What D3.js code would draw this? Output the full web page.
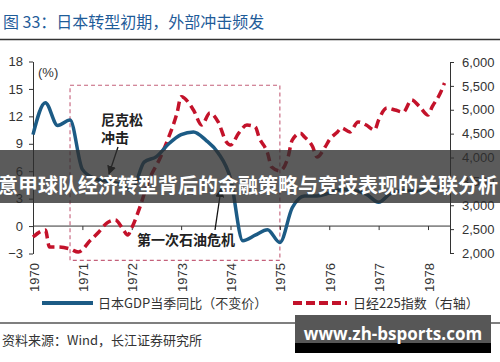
<!DOCTYPE html>
<html>
<head>
<meta charset="utf-8">
<script src="https://cdn.jsdelivr.net/npm/d3@7"></script>
<style>
  body { margin: 0; background: #fff; }
  svg { display: block; font-family: "Liberation Sans", "Noto Sans CJK SC", sans-serif; }
  .cjk { font-family: "Noto Sans CJK SC", sans-serif; }
</style>
</head>
<body>
<script>
// quarterly GDP yoy (%)
var gdpQuarters = ["1970Q1","1970Q2","1970Q3","1970Q4","1971Q1","1971Q2","1971Q3","1971Q4",
  "1972Q1","1972Q2","1972Q3","1972Q4","1973Q1","1973Q2","1973Q3","1973Q4",
  "1974Q1","1974Q2","1974Q3","1974Q4","1975Q1","1975Q2","1975Q3","1975Q4",
  "1976Q1","1976Q2","1976Q3","1976Q4","1977Q1","1977Q2","1977Q3","1977Q4",
  "1978Q1","1978Q2"];
var gdpValues = [10.0, 13.5, 11.0, 11.6, 6.2, 5.2, 4.9, 4.6,
  3.9, 7.0, 7.6, 9.0, 10.0, 10.3, 9.4, 8.0,
  5.2, -1.6, -1.0, -0.4, -1.8, 2.0, 3.3, 3.3,
  3.6, 4.0, 3.9, 3.5, 2.6, 3.6, 3.9, 3.8,
  4.1, 4.3];

// Nikkei 225 (right axis)
var nikkeiMonths = ["1970-01","1970-04","1970-05","1970-07","1970-10","1970-12",
  "1971-03","1971-05","1971-07","1971-09","1971-11","1971-12",
  "1972-01","1972-03","1972-05","1972-08","1972-10","1972-12",
  "1973-01","1973-04","1973-06","1973-08","1973-10","1973-12",
  "1974-01","1974-03","1974-05","1974-07","1974-08","1974-10","1974-11",
  "1975-01","1975-03","1975-04","1975-06","1975-07","1975-09","1975-10","1975-12",
  "1976-01","1976-03","1976-04","1976-06","1976-08","1976-10","1976-12",
  "1977-01","1977-03","1977-05","1977-07","1977-09","1977-11",
  "1978-01","1978-02","1978-04","1978-05"];
var nikkeiValues = [2335, 2480, 2125, 2125, 2085, 2020,
  2270, 2440, 2630, 2690, 2480, 2375,
  2525, 2965, 3490, 4010, 4430, 4930,
  5270, 4995, 4680, 4930, 4745, 4325,
  4260, 4510, 4680, 4640, 4410, 4095, 3800,
  3720, 4010, 4365, 4510, 4430, 4220, 4010, 4220,
  4365, 4535, 4620, 4535, 4745, 4680, 4575,
  4785, 5035, 4995, 4950, 5205, 5060,
  4890, 5060, 5350, 5560];

var years = [1970, 1971, 1972, 1973, 1974, 1975, 1976, 1977, 1978];
var leftTicks = [-3, 0, 3, 6, 9, 12, 15, 18];
var rightTicks = [2000, 2500, 3000, 3500, 4000, 4500, 5000, 5500, 6000];
var shockBox = {from: 1970.75, to: 1975.0, top: 15.4, bottom: -3.75};

var title = "图 33：日本转型初期，外部冲击频发";
var source = "资料来源：Wind，长江证券研究所";
var bannerText = "意甲球队经济转型背后的金融策略与竞技表现的关联分析";
var siteText = "www.zh-bsports.com";

var W = 500, H = 362;
var blue = "#1c5b85", red = "#c3122a";

function qTime(s) { return +s.slice(0, 4) + (+s.slice(5) - 1) / 4; }
function mTime(s) { return +s.slice(0, 4) + (+s.slice(5) - 1) / 12; }

var x = d3.scaleLinear().domain([1970, 1978]).range([33, 428]);
var yL = d3.scaleLinear().domain([-3, 18]).range([253.5, 61.5]);
var yR = d3.scaleLinear().domain([2000, 6000]).range([253, 62]);

var svg = d3.select("body").append("svg").attr("width", W).attr("height", H);

// title + rule
svg.append("text").attr("class", "cjk").attr("x", 3).attr("y", 28)
  .attr("font-size", 16).attr("fill", "#1f5c99").text(title);
svg.append("line").attr("x1", 0).attr("x2", W).attr("y1", 39.5).attr("y2", 39.5)
  .attr("stroke", "#333").attr("stroke-width", 1.6);

// dashed shock window
svg.append("rect")
  .attr("x", x(shockBox.from)).attr("y", yL(shockBox.top))
  .attr("width", x(shockBox.to) - x(shockBox.from))
  .attr("height", yL(shockBox.bottom) - yL(shockBox.top))
  .attr("fill", "none").attr("stroke", "#c4607a").attr("stroke-width", 1.1)
  .attr("stroke-dasharray", "4,3");

// left axis
var gl = svg.append("g").attr("transform", "translate(33,0)")
  .call(d3.axisLeft(yL).tickValues(leftTicks).tickSize(4).tickSizeOuter(0).tickPadding(6));
// right axis
var gr = svg.append("g").attr("transform", "translate(450,0)")
  .call(d3.axisRight(yR).tickValues(rightTicks).tickSize(4).tickSizeOuter(0).tickPadding(8)
    .tickFormat(d3.format(",")));
[gl, gr].forEach(function(g) {
  g.selectAll("path").attr("stroke", "#333");
  g.selectAll("line").attr("stroke", "#333");
  g.selectAll("text").attr("font-size", 13).attr("fill", "#333")
    .attr("font-family", "Liberation Sans, sans-serif");
});

// zero line with year ticks
var gx = svg.append("g").attr("transform", "translate(0," + yL(0) + ")")
  .call(d3.axisBottom(x).tickValues(years).tickSize(4).tickSizeOuter(0).tickFormat(""));
gx.select(".domain").attr("d", "M33,0H450").attr("stroke", "#333");
gx.selectAll("line").attr("stroke", "#333");

svg.append("g").selectAll("text").data(years).join("text")
  .attr("transform", function(d) { return "translate(" + (x(d) + 1) + ",263) rotate(-90)"; })
  .attr("text-anchor", "end").attr("dy", "0.35em")
  .attr("font-size", 13).attr("fill", "#333").text(function(d) { return d; });

svg.append("text").attr("x", 38).attr("y", 77).attr("font-size", 13)
  .attr("fill", "#333").text("(%)");

// lines
var gdpLine = d3.line()
  .x(function(d, i) { return x(qTime(gdpQuarters[i])); })
  .y(function(d) { return yL(d); })
  .curve(d3.curveMonotoneX);
var nikkeiLine = d3.line()
  .x(function(d, i) { return x(mTime(nikkeiMonths[i])); })
  .y(function(d) { return yR(d); })
  .curve(d3.curveMonotoneX);

svg.append("path").datum(nikkeiValues).attr("d", nikkeiLine)
  .attr("fill", "none").attr("stroke", red).attr("stroke-width", 3.5)
  .attr("stroke-dasharray", "9,5");
svg.append("path").datum(gdpValues).attr("d", gdpLine)
  .attr("fill", "none").attr("stroke", blue).attr("stroke-width", 3.5)
  .attr("stroke-linejoin", "round");

// annotations
svg.append("defs").append("marker").attr("id", "arr")
  .attr("viewBox", "0 0 10 10").attr("refX", 9).attr("refY", 5)
  .attr("markerWidth", 7).attr("markerHeight", 7).attr("orient", "auto")
  .append("path").attr("d", "M0,0L10,5L0,10z").attr("fill", "#111");

var ann = svg.append("g").attr("class", "cjk").attr("font-size", 14)
  .attr("font-weight", "bold").attr("fill", "#222");
ann.append("text").attr("x", 101).attr("y", 125).text("尼克松");
ann.append("text").attr("x", 101).attr("y", 143).text("冲击");
ann.append("text").attr("x", 137).attr("y", 245).text("第一次石油危机");

svg.append("line").attr("x1", 118).attr("y1", 147).attr("x2", 109).attr("y2", 174)
  .attr("stroke", "#111").attr("stroke-width", 1.3).attr("marker-end", "url(#arr)");
svg.append("line").attr("x1", 215).attr("y1", 230).attr("x2", 221).attr("y2", 189)
  .attr("stroke", "#111").attr("stroke-width", 1.3).attr("marker-end", "url(#arr)");

// legend
var lg = svg.append("g").attr("class", "cjk").attr("font-size", 13).attr("fill", "#333");
lg.append("line").attr("x1", 42).attr("x2", 93).attr("y1", 303).attr("y2", 303)
  .attr("stroke", blue).attr("stroke-width", 4);
lg.append("text").attr("x", 98).attr("y", 308).text("日本GDP当季同比（不变价）");
lg.append("line").attr("x1", 293).attr("x2", 347).attr("y1", 303).attr("y2", 303)
  .attr("stroke", red).attr("stroke-width", 4).attr("stroke-dasharray", "9,4");
lg.append("text").attr("x", 353).attr("y", 308).text("日经225指数（右轴）");

// bottom rule + source
svg.append("line").attr("x1", 0).attr("x2", W).attr("y1", 323).attr("y2", 323)
  .attr("stroke", "#555").attr("stroke-width", 1.5);
svg.append("text").attr("class", "cjk").attr("x", 2).attr("y", 345)
  .attr("font-size", 13).attr("fill", "#333").text(source);

// overlay banner
svg.append("rect").attr("x", 0).attr("y", 150).attr("width", W).attr("height", 53)
  .attr("fill", "rgba(45,45,45,0.78)");
svg.append("text").attr("class", "cjk").attr("x", 248).attr("y", 184)
  .attr("text-anchor", "middle").attr("dominant-baseline", "central")
  .attr("font-size", 20).attr("font-weight", "bold").attr("fill", "#fff").text(bannerText);

// site badge
svg.append("rect").attr("x", 295).attr("y", 315).attr("width", 196).attr("height", 28)
  .attr("fill", "#575757");
svg.append("rect").attr("x", 295).attr("y", 343).attr("width", 196).attr("height", 10)
  .attr("fill", "#000");
svg.append("text").attr("x", 393).attr("y", 340).attr("text-anchor", "middle")
  .attr("font-family", "Open Sans, sans-serif").attr("font-size", 17)
  .attr("font-weight", "bold").attr("fill", "#fff").text(siteText);
</script>
</body>
</html>
